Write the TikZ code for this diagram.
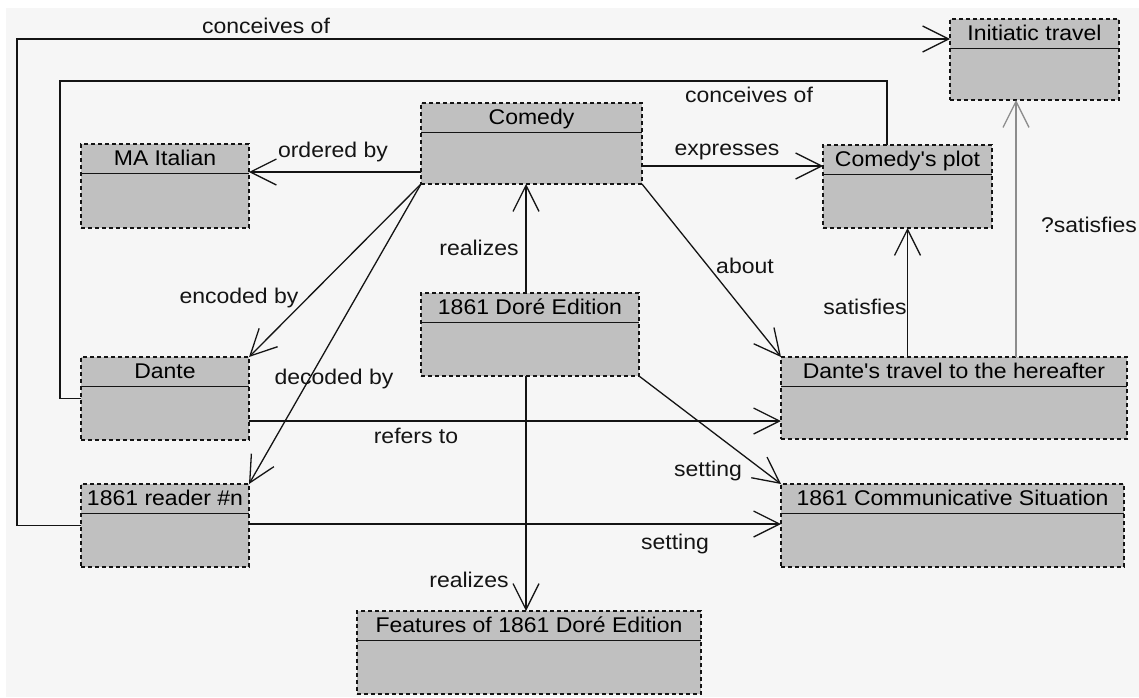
\documentclass[tikz,border=0pt]{standalone}
\usepackage{fontspec}
\setmainfont{Liberation Sans}[FakeStretch=1.08, Ligatures=TeXOff]
\usetikzlibrary{arrows.meta}

\definecolor{boxgray}{HTML}{C0C0C0}
\definecolor{paper}{HTML}{F6F6F6}
\definecolor{ink}{HTML}{141414}
\definecolor{faint}{HTML}{8C8C8C}

% class box: name, x1, y1, x2, y2, title
\newcommand\umlclass[6]{%
  \node[umlbox, minimum width={#4-#2}, minimum height={#5-#3}]
    (#1) at ({(#2+#4)/2},{(#3+#5)/2}) {};
  \draw[divider] ([yshift=-29.5pt]#1.north west) -- ([yshift=-29.5pt]#1.north east);
  \node[anchor=base, inner sep=0] (#1-title) at ({(#2+#4)/2},{#3+21.5}) {#6};
}

\begin{document}
\begin{tikzpicture}[x=1pt, y=-1pt,
  font=\fontsize{21.3}{24}\selectfont,
  umlbox/.style={draw=ink, fill=boxgray, dash pattern=on 4pt off 3pt,
    line width=1.4pt, inner sep=0pt, outer sep=0pt},
  divider/.style={draw=ink, line width=1.4pt},
  link/.style={draw=ink, line width=1.3pt,
    -{Straight Barb[length=26pt, width=26pt]}},
  plainlink/.style={draw=ink, line width=1.3pt},
  doubtlink/.style={link, draw=faint},
  lbl/.style={anchor=base, inner sep=0pt, text=ink},
]
\useasboundingbox (0,0) rectangle (1139,697);
\fill[white] (0,0) rectangle (1139,697);
\fill[paper] (6,8) rectangle (1139,697);

% classes
\umlclass{ital}{81}{144}{249}{228}{MA Italian}
\umlclass{comedy}{421}{103}{642}{184}{Comedy}
\umlclass{plot}{823}{145}{992}{228}{Comedy's plot}
\umlclass{init}{950}{19}{1119}{100}{Initiatic travel}
\umlclass{dante}{81}{357}{249}{440}{Dante}
\umlclass{dore}{421}{293}{639}{376}{1861 Doré Edition}
\umlclass{travel}{781}{357}{1127}{439}{Dante's travel to the hereafter}
\umlclass{reader}{81}{484}{249}{567}{1861 reader \#n}
\umlclass{comm}{781}{484}{1124}{567}{1861 Communicative Situation}
\umlclass{feat}{357}{611}{701}{694}{Features of 1861 Doré Edition}

% routing corners and attachment points
\coordinate (k1) at (17,39);
\coordinate (k2) at (60,81);
\coordinate (p-order) at ([yshift=-28.5pt]comedy.west);
\coordinate (p-expr) at ([yshift=-22.5pt]comedy.east);
\coordinate (p-refer) at ([yshift=-22.5pt]dante.east);
\coordinate (p-set) at ([yshift=1.5pt]reader.east);
\coordinate (p-real1) at ([xshift=-4pt]dore.north);
\coordinate (p-real2) at ([xshift=-4pt]dore.south);
\coordinate (p-conc) at ([xshift=-20.5pt]plot.north);
\coordinate (q) at (1016,357);

% connectors
\draw[link] (reader.west) -| (k1) -- (k1 -| init.west);
\draw[plainlink] (p-conc) |- (k2) |- (dante.west);
\draw[link] (p-order) -- (ital.east |- p-order);
\draw[link] (p-expr) -- (plot.west |- p-expr);
\draw[link] (comedy.south west) -- (dante.north east);
\draw[link] (comedy.south west) -- (reader.north east);
\draw[link] (p-real1) -- (p-real1 |- comedy.south);
\draw[link] (comedy.south east) -- (travel.north west);
\draw[link] (plot.south |- travel.north) -- (plot.south);
\draw[doubtlink] (q) -- (q |- init.south);
\draw[link] (p-refer) -- (travel.west |- p-refer);
\draw[link] (dore.south east) -- (comm.north west);
\draw[link] (p-set) -- (comm.west |- p-set);
\draw[link] (p-real2) -- (p-real2 |- feat.north);

% connector labels
\node[lbl] (l-conc1) at (266,33) {conceives of};
\node[lbl] (l-conc2) at (749,102) {conceives of};
\node[lbl] (l-order) at (333,157) {ordered by};
\node[lbl] (l-expr) at (727,155) {expresses};
\node[lbl] (l-real1) at (479,255) {realizes};
\node[lbl] (l-about) at (745,273) {about};
\node[lbl] (l-enc) at (239,303) {encoded by};
\node[lbl] (l-dec) at (334,384) {decoded by};
\node[lbl] (l-refer) at (416,443) {refers to};
\node[lbl] (l-sat) at (865,314) {satisfies};
\node[lbl] (l-qsat) at (1089,232) {?satisfies};
\node[lbl] (l-set1) at (708,476) {setting};
\node[lbl] (l-set2) at (675,549) {setting};
\node[lbl] (l-real2) at (469,587) {realizes};
\end{tikzpicture}
\end{document}
